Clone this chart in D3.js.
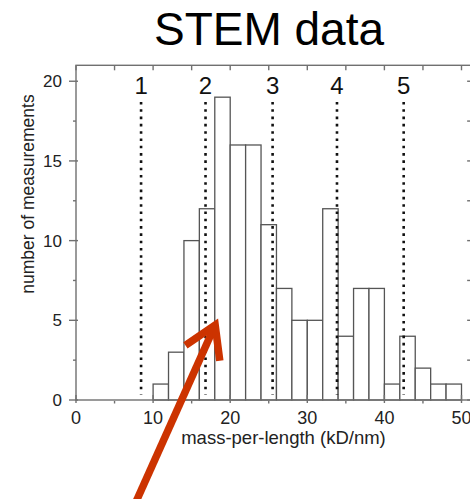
<!DOCTYPE html>
<html><head><meta charset="utf-8">
<script src="https://cdn.jsdelivr.net/npm/d3@7"></script>
<style>html,body{margin:0;padding:0;background:#fff;overflow:hidden}</style>
</head><body>
<script>
// Histogram bins (left edge, kD/nm) and counts
const binStarts = [10,12,14,16,18,20,22,24,26,28,30,32,34,36,38,40,42,44,46,48];
const binWidth = 2;
const counts    = [1,3,10,12,19,16,16,11,7,5,5,12,4,7,7,1,4,2,1,1];
// Dotted reference lines (multiples of protofilament mass)
const refValues = [8.44,16.8,25.5,33.85,42.5];
const refLabels = ["1","2","3","4","5"];
const xTicks = [0,10,20,30,40,50];
const yTicks = [0,5,10,15,20];
// Red arrow annotation (data units): tail -> tip
const arrowTail = [7.4,-6.8];
const arrowTip  = [18.05,4.7];

const W=470,H=499;
const svg=d3.select("body").append("svg").attr("width",W).attr("height",H);
const x=d3.scaleLinear().domain([0,50]).range([76,461.5]);
const y=d3.scaleLinear().domain([0,21]).range([400,65.3]);
const xMax=51.25;
const frameColor="#707070";
const FONT="Liberation Sans, Arial, sans-serif";

// title
svg.append("text").attr("x",269).attr("y",45).attr("text-anchor","middle")
  .attr("font-family",FONT).attr("font-size",46)
  .attr("fill","#000").text("STEM data");

const g=svg.append("g");
// bars
g.selectAll("rect.bar").data(binStarts).join("rect").attr("class","bar")
  .attr("x",(d)=>x(d)).attr("width",(d)=>x(d+binWidth)-x(d))
  .attr("y",(d,i)=>y(counts[i])).attr("height",(d,i)=>y(0)-y(counts[i]))
  .attr("fill","#fff").attr("stroke","#555").attr("stroke-width",1.3);

// dotted lines
g.selectAll("line.ref").data(refValues).join("line").attr("class","ref")
  .attr("x1",d=>x(d)).attr("x2",d=>x(d)).attr("y1",y(18.7)).attr("y2",y(0.35))
  .attr("stroke","#111").attr("stroke-width",2.6).attr("stroke-dasharray","2.6 4.7");
g.selectAll("text.ref").data(refValues).join("text").attr("class","ref")
  .attr("x",d=>x(d)).attr("y",93.5).attr("text-anchor","middle")
  .attr("font-family",FONT).attr("font-size",24)
  .attr("fill","#111").text((d,i)=>refLabels[i]);

// frame
const fr=svg.append("g").attr("stroke",frameColor).attr("stroke-width",1.4).attr("fill","none");
fr.append("rect").attr("x",x(0)).attr("y",y(21)).attr("width",x(xMax)-x(0)).attr("height",y(0)-y(21));

// x axis ticks
const xMinor=d3.range(0,51,5);
fr.selectAll("line.bt").data(xMinor).join("line")
  .attr("x1",d=>x(d)).attr("x2",d=>x(d))
  .attr("y1",d=>d%10===0?y(0)-5:y(0)+1).attr("y2",d=>d%10===0?y(0)+3:y(0)+3.5);
fr.selectAll("line.tt").data(xMinor).join("line")
  .attr("x1",d=>x(d)).attr("x2",d=>x(d)).attr("y1",y(21)).attr("y2",y(21)+5);
// y axis ticks
const yMinor=d3.range(0,21,2.5);
fr.selectAll("line.lt").data(yMinor).join("line")
  .attr("y1",d=>y(d)).attr("y2",d=>y(d))
  .attr("x1",d=>d%5===0?x(0)-7:x(0)-3).attr("x2",d=>d%5===0?x(0)+2:x(0));
fr.selectAll("line.rt").data(yMinor).join("line")
  .attr("y1",d=>y(d)).attr("y2",d=>y(d))
  .attr("x1",x(xMax)-4).attr("x2",x(xMax));

// tick labels
svg.append("g").selectAll("text").data(xTicks).join("text")
  .attr("x",d=>x(d)).attr("y",423.5).attr("text-anchor","middle")
  .attr("font-family",FONT).attr("font-size",18)
  .attr("fill","#222").text(d=>d);
svg.append("g").selectAll("text").data(yTicks).join("text")
  .attr("x",62).attr("y",d=>y(d)+6).attr("text-anchor","end")
  .attr("font-family",FONT).attr("font-size",17)
  .attr("fill","#222").text(d=>d);

// axis titles
svg.append("text").attr("x",283.5).attr("y",444).attr("text-anchor","middle")
  .attr("font-family",FONT).attr("font-size",18.5)
  .attr("fill","#222").text("mass-per-length (kD/nm)");
svg.append("text").attr("transform","translate(34,194) rotate(-90)").attr("text-anchor","middle")
  .attr("font-family",FONT).attr("font-size",17.5)
  .attr("fill","#222").text("number of measurements");

// red arrow
const red="#CC3300";
const tx=x(arrowTip[0]),ty=y(arrowTip[1]),sx=x(arrowTail[0]),sy=y(arrowTail[1]);
const ang=Math.atan2(ty-sy,tx-sx);
const L=36,spread=0.55;
const a=svg.append("g").attr("stroke",red).attr("stroke-width",7.5).attr("fill","none")
  .attr("stroke-linecap","butt").attr("stroke-linejoin","miter");
a.append("line").attr("x1",sx).attr("y1",sy).attr("x2",tx-3*Math.cos(ang)).attr("y2",ty-3*Math.sin(ang));
a.append("path").attr("d",d3.line()([
  [tx-L*Math.cos(ang-spread),ty-L*Math.sin(ang-spread)],
  [tx,ty],
  [tx-L*Math.cos(ang+spread),ty-L*Math.sin(ang+spread)]]));
</script>
</body></html>
